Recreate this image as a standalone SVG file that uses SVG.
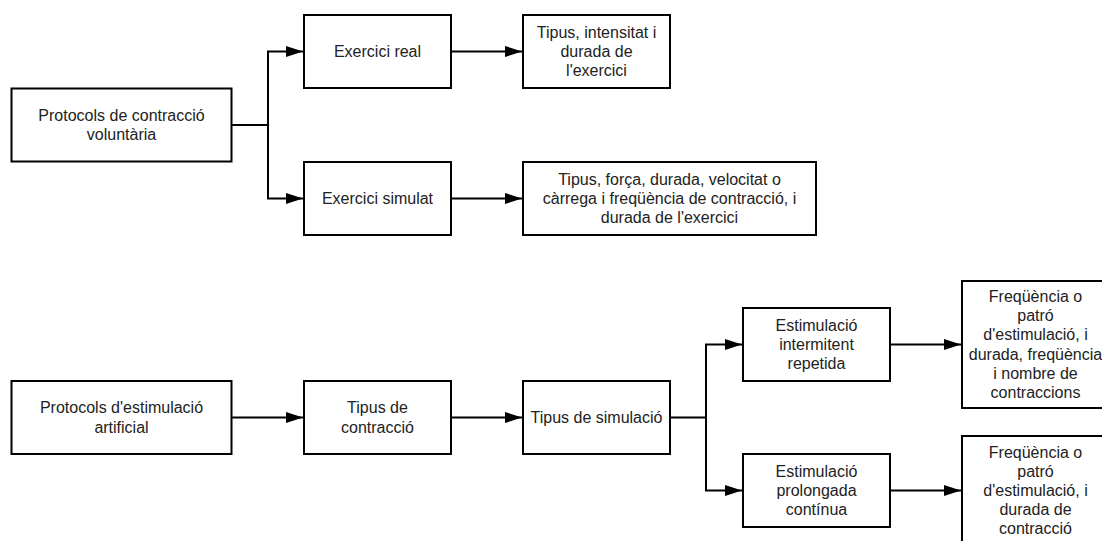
<svg xmlns="http://www.w3.org/2000/svg" width="1102" height="541" viewBox="0 0 1102 541">
<style>
.box{fill:#fff;stroke:#000;stroke-width:2}
.t{font-family:"Liberation Sans",Arial,sans-serif;font-size:16px;fill:#222;text-anchor:middle}
.c{fill:none;stroke:#000;stroke-width:2}
</style>
<defs>
<marker id="ah" viewBox="0 0 17 11" refX="17" refY="5.5" markerWidth="17" markerHeight="11" markerUnits="userSpaceOnUse" orient="auto">
<path d="M0,0 L17,5.5 L0,11 z" fill="#000"/>
</marker>
</defs>
<rect width="1102" height="541" fill="#fff"/>
<g id="connectors">
<path class="c" d="M231.5,125 H268 V51.5 H303" marker-end="url(#ah)"/>
<path class="c" d="M268,125 V198.5 H303" marker-end="url(#ah)"/>
<path class="c" d="M451,51.5 H522" marker-end="url(#ah)"/>
<path class="c" d="M451,198.5 H522" marker-end="url(#ah)"/>
<path class="c" d="M231.5,417.5 H303" marker-end="url(#ah)"/>
<path class="c" d="M451,417.5 H522" marker-end="url(#ah)"/>
<path class="c" d="M670,417.5 H706 V344.5 H742" marker-end="url(#ah)"/>
<path class="c" d="M706,417.5 V490.5 H742" marker-end="url(#ah)"/>
<path class="c" d="M890,344.5 H961" marker-end="url(#ah)"/>
<path class="c" d="M890,490.5 H961" marker-end="url(#ah)"/>
</g>
<g id="n-vol">
<rect class="box" x="11.5" y="88.5" width="220" height="73"/>
<text class="t" x="121.5"><tspan x="121.5" y="120.9">Protocols de contracció</tspan><tspan x="121.5" y="140.1">voluntària</tspan></text>
</g>
<g id="n-real">
<rect class="box" x="304" y="15" width="147" height="73"/>
<text class="t" x="377.5" y="57">Exercici real</text>
</g>
<g id="n-sim">
<rect class="box" x="304" y="162" width="147" height="73"/>
<text class="t" x="377.5" y="204">Exercici simulat</text>
</g>
<g id="n-tipint">
<rect class="box" x="523" y="15" width="147" height="73"/>
<text class="t"><tspan x="596.5" y="37.8">Tipus, intensitat i</tspan><tspan x="596.5" y="57">durada de</tspan><tspan x="596.5" y="76.2">l'exercici</tspan></text>
</g>
<g id="n-tipforca">
<rect class="box" x="523" y="162" width="293" height="73"/>
<text class="t"><tspan x="669.5" y="184.8">Tipus, força, durada, velocitat o</tspan><tspan x="669.5" y="204">càrrega i freqüència de contracció, i</tspan><tspan x="669.5" y="223.2">durada de l'exercici</tspan></text>
</g>
<g id="n-art">
<rect class="box" x="11.5" y="381" width="220" height="73"/>
<text class="t"><tspan x="121.5" y="413.4">Protocols d'estimulació</tspan><tspan x="121.5" y="432.6">artificial</tspan></text>
</g>
<g id="n-contr">
<rect class="box" x="304" y="381" width="147" height="73"/>
<text class="t"><tspan x="377.5" y="413.4">Tipus de</tspan><tspan x="377.5" y="432.6">contracció</tspan></text>
</g>
<g id="n-simul">
<rect class="box" x="523" y="381" width="147" height="73"/>
<text class="t" x="596.5" y="423">Tipus de simulació</text>
</g>
<g id="n-interm">
<rect class="box" x="743" y="308" width="147" height="73"/>
<text class="t"><tspan x="816.5" y="330.8">Estimulació</tspan><tspan x="816.5" y="350">intermitent</tspan><tspan x="816.5" y="369.2">repetida</tspan></text>
</g>
<g id="n-prol">
<rect class="box" x="743" y="454" width="147" height="73"/>
<text class="t"><tspan x="816.5" y="476.8">Estimulació</tspan><tspan x="816.5" y="496">prolongada</tspan><tspan x="816.5" y="515.2">contínua</tspan></text>
</g>
<g id="n-freq1">
<rect class="box" x="962" y="281" width="147" height="127"/>
<text class="t"><tspan x="1035.5" y="302">Freqüència o</tspan><tspan x="1035.5" y="321.2">patró</tspan><tspan x="1035.5" y="340.4">d'estimulació, i</tspan><tspan x="1035.5" y="359.6">durada, freqüència</tspan><tspan x="1035.5" y="378.8">i nombre de</tspan><tspan x="1035.5" y="398">contraccions</tspan></text>
</g>
<g id="n-freq2">
<rect class="box" x="962" y="436" width="147" height="109"/>
<text class="t"><tspan x="1035.5" y="457.6">Freqüència o</tspan><tspan x="1035.5" y="476.8">patró</tspan><tspan x="1035.5" y="496">d'estimulació, i</tspan><tspan x="1035.5" y="515.2">durada de</tspan><tspan x="1035.5" y="534.4">contracció</tspan></text>
</g>
</svg>
